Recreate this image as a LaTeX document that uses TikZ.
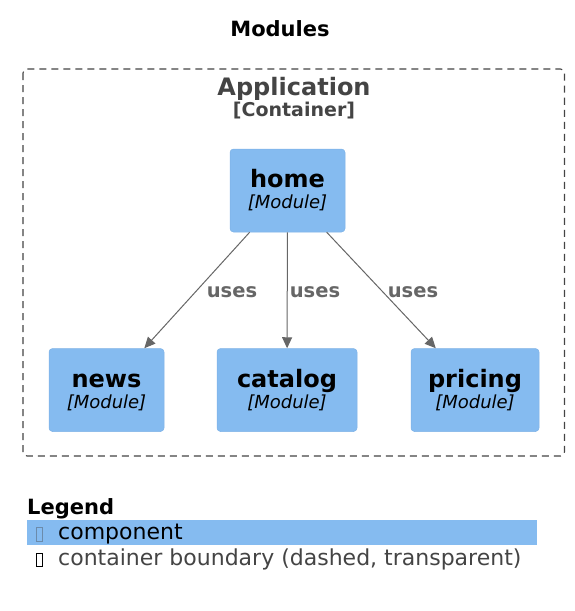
\documentclass[tikz,border=0pt]{standalone}
\usepackage{fontspec}
\setmainfont{DejaVu Sans}
\usetikzlibrary{arrows.meta}
\definecolor{compblue}{HTML}{85BBF0}
\definecolor{compedge}{HTML}{7EB2E6}
\definecolor{darkgray}{HTML}{444444}
\definecolor{arrgray}{HTML}{666666}
\tikzset{
  module/.style={draw=compedge, fill=compblue, rounded corners=3.5pt, line width=0.5pt, inner sep=0pt, minimum height=83pt},
  modname/.style={anchor=base, inner sep=0pt, font=\fontsize{24}{26}\selectfont\bfseries},
  modtype/.style={anchor=base, inner sep=0pt, font=\fontsize{18}{20}\selectfont\itshape},
  rel/.style={draw=arrgray, line width=1pt, -{Triangle[length=11pt,width=10pt]}},
  rellabel/.style={anchor=base, inner sep=0pt, text=arrgray, font=\fontsize{19.5}{21}\selectfont\bfseries},
  legtext/.style={anchor=base west, inner sep=0pt, font=\fontsize{22}{24}\selectfont},
}
\begin{document}
\begin{tikzpicture}[x=1pt,y=-1pt]
\useasboundingbox (0,0) rectangle (575,611);
\node[anchor=base, inner sep=0pt, font=\fontsize{21}{23}\selectfont\bfseries] (title) at (280,36) {Modules};
\draw[darkgray, dash pattern=on 7pt off 5pt, rounded corners=4pt, line width=1.1pt] (23,69) rectangle (564.5,456);
\node[anchor=base, inner sep=0pt, text=darkgray, font=\fontsize{24}{26}\selectfont\bfseries] (app) at (294,95) {Application};
\node[anchor=base, inner sep=0pt, text=darkgray, font=\fontsize{19}{21}\selectfont\bfseries] (appt) at (294,116) {[Container]};
\node[module, minimum width=115pt] (home) at (287.5,190.5) {};
\node[module, minimum width=115pt] (news) at (106.5,390) {};
\node[module, minimum width=140pt] (catalog) at (287,390) {};
\node[module, minimum width=128pt] (pricing) at (475,390) {};
\foreach \n/\t in {home/home, news/news, catalog/catalog, pricing/pricing}{
  \node[modname] (\n-name) at ([yshift=-39pt]\n.north) {\t};
  \node[modtype] (\n-type) at ([yshift=-60pt]\n.north) {[Module]};
}
\draw[rel] (home) -- (news);
\draw[rel] (home) -- (catalog);
\draw[rel] (home) -- (pricing);
\node[rellabel] (u1) at (232,297) {uses};
\node[rellabel] (u2) at (315,297) {uses};
\node[rellabel] (u3) at (413,297) {uses};
\node[anchor=base west, inner sep=0pt, font=\fontsize{21}{23}\selectfont\bfseries] (leg) at (27,514) {Legend};
\fill[compblue] (27,520) rectangle (537,544.5);
\draw[darkgray!40!compblue, line width=0.7pt] (36,527) rectangle (42.5,541.5);
\node[legtext] (l1) at (58,539.5) {component};
\draw[black, line width=0.7pt] (36,553) rectangle (42.5,566.5);
\node[legtext, text=darkgray] (l2) at (58,565) {container boundary (dashed, transparent)};
\end{tikzpicture}
\end{document}
